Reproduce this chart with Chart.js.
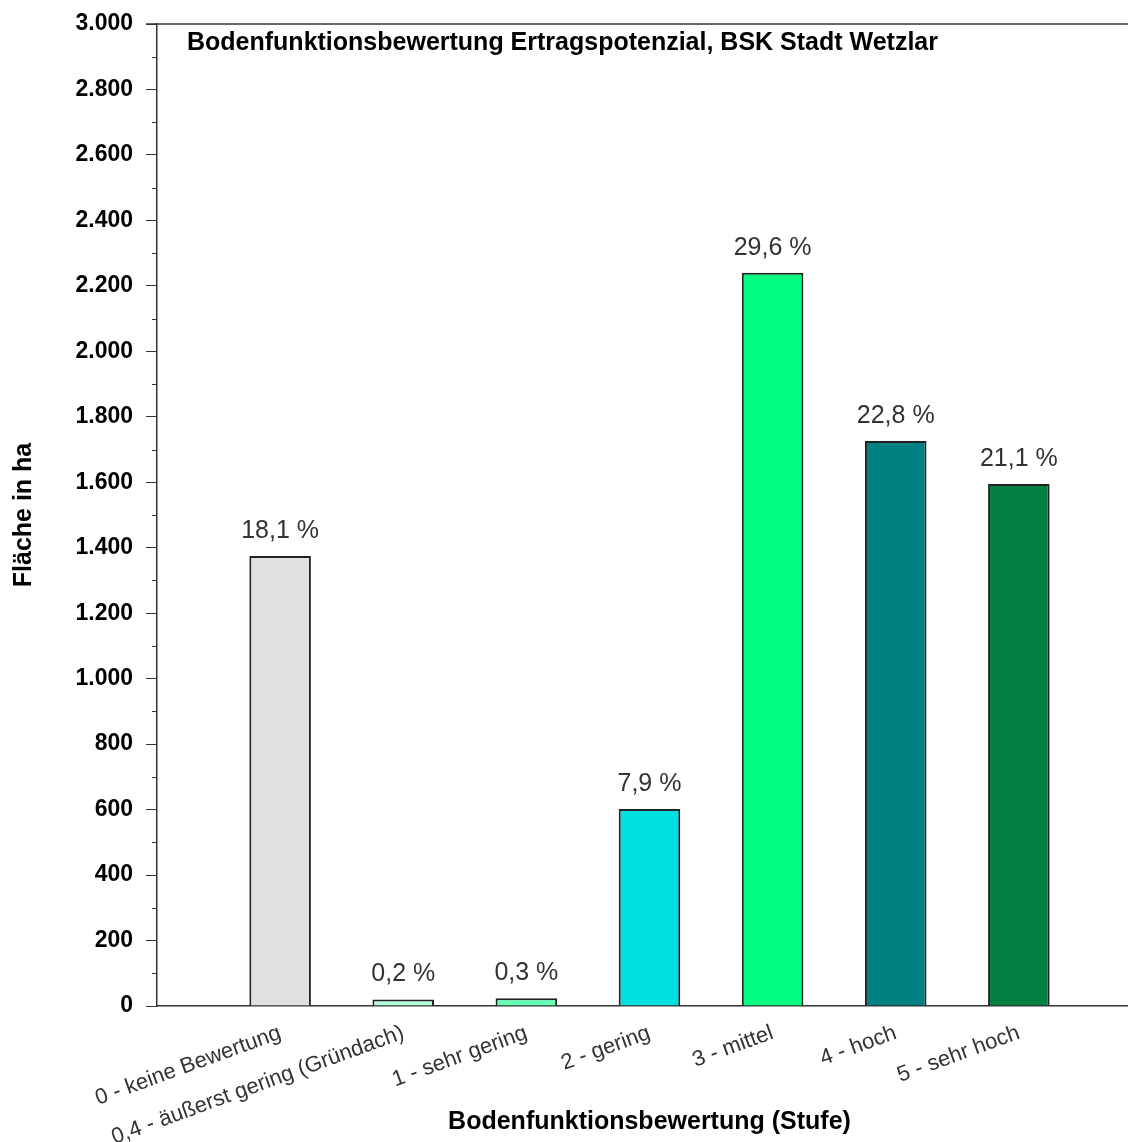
<!DOCTYPE html>
<html>
<head>
<meta charset="utf-8">
<script src="https://cdn.jsdelivr.net/npm/chart.js@4.4.1/dist/chart.umd.min.js"></script>
<style>
html, body { margin: 0; padding: 0; background: #fff; overflow: hidden; }
#wrap { width: 1165px; height: 1142px; }
</style>
</head>
<body>
<div id="wrap"><canvas id="c" width="1165" height="1142"></canvas></div>
<script>
// ---- data ----
const categories = ['', '0 - keine Bewertung', '0,4 - äußerst gering (Gründach)', '1 - sehr gering', '2 - gering', '3 - mittel', '4 - hoch', '5 - sehr hoch', ''];
const areaHa = [null, 1375, 20, 24, 602, 2240, 1726, 1595, null];
const percentLabels = ['', '18,1 %', '0,2 %', '0,3 %', '7,9 %', '29,6 %', '22,8 %', '21,1 %', ''];
const barColors = ['#ffffff', '#e0e0e0', '#b3ffd9', '#66ffb3', '#00e0e0', '#00ff80', '#008080', '#007f40', '#ffffff'];
const yTickValues = [0, 200, 400, 600, 800, 1000, 1200, 1400, 1600, 1800, 2000, 2200, 2400, 2600, 2800, 3000];
const chartTitle = 'Bodenfunktionsbewertung Ertragspotenzial, BSK Stadt Wetzlar';
const xAxisTitle = 'Bodenfunktionsbewertung (Stufe)';
const yAxisTitle = 'Fläche in ha';

const FONT = "'Liberation Sans', Arial, sans-serif";
const fmt = v => String(v).replace(/\B(?=(\d{3})+(?!\d))/g, '.');

const decor = {
  id: 'decor',
  afterDatasetsDraw(chart) {
    const ctx = chart.ctx;
    const a = chart.chartArea;
    const y = chart.scales.y;
    ctx.save();
    // top frame line
    ctx.strokeStyle = '#333';
    ctx.lineWidth = 1.5;
    ctx.beginPath();
    ctx.moveTo(a.left - 11, a.top);
    ctx.lineTo(a.right, a.top);
    ctx.stroke();
    // minor ticks
    ctx.lineWidth = 1;
    for (let i = 0; i < yTickValues.length - 1; i++) {
      const v = (yTickValues[i] + yTickValues[i + 1]) / 2;
      const py = Math.round(y.getPixelForValue(v)) + 0.5;
      ctx.beginPath();
      ctx.moveTo(a.left - 5, py);
      ctx.lineTo(a.left, py);
      ctx.stroke();
    }
    // chart title inside plot
    ctx.fillStyle = '#000';
    ctx.font = "bold 25px " + FONT;
    ctx.textAlign = 'left';
    ctx.textBaseline = 'middle';
    ctx.fillText(chartTitle, a.left + 30, a.top + 19);
    // percentage labels
    ctx.font = "25px " + FONT;
    ctx.fillStyle = '#333';
    ctx.textAlign = 'center';
    ctx.textBaseline = 'alphabetic';
    const meta = chart.getDatasetMeta(0);
    meta.data.forEach((bar, i) => {
      if (areaHa[i] == null) return;
      ctx.fillText(percentLabels[i], bar.x, bar.y - 18);
    });
    ctx.restore();
  }
};

new Chart(document.getElementById('c'), {
  type: 'bar',
  data: {
    labels: categories,
    datasets: [{
      data: areaHa,
      backgroundColor: barColors,
      borderColor: '#222',
      borderWidth: 2,
      barPercentage: 0.5,
      categoryPercentage: 1.0
    }]
  },
  options: {
    responsive: false,
    animation: false,
    devicePixelRatio: 1,
    layout: { padding: { top: 24, right: 10, left: 0, bottom: 0 } },
    plugins: { legend: { display: false }, tooltip: { enabled: false }, title: { display: false } },
    scales: {
      x: {
        type: 'category',
        offset: false,
        grid: { drawOnChartArea: false, drawTicks: false },
        border: { display: true, color: '#333', width: 1.5 },
        ticks: {
          autoSkip: false,
          minRotation: 20,
          maxRotation: 20,
          padding: 14,
          color: '#333',
          font: { family: FONT, size: 22 }
        },
        title: {
          display: true,
          text: xAxisTitle,
          color: '#000',
          font: { family: FONT, size: 25, weight: 'bold' },
          padding: { top: 0, bottom: 5 }
        },
        afterFit(scale) { scale.height = 136; }
      },
      y: {
        min: 0,
        max: 3000,
        grid: { drawOnChartArea: false, tickLength: 11, color: '#333' },
        border: { display: true, color: '#333', width: 1.5 },
        ticks: {
          stepSize: 200,
          padding: 13,
          color: '#000',
          font: { family: FONT, size: 23, weight: 'bold' },
          callback: v => fmt(v)
        },
        title: {
          display: true,
          text: yAxisTitle,
          color: '#000',
          font: { family: FONT, size: 25, weight: 'bold' },
          padding: { top: 9, bottom: 0 }
        },
        afterFit(scale) { scale.width = 157; scale.paddingTop = 0; }
      }
    }
  },
  plugins: [decor]
});
</script>
</body>
</html>
